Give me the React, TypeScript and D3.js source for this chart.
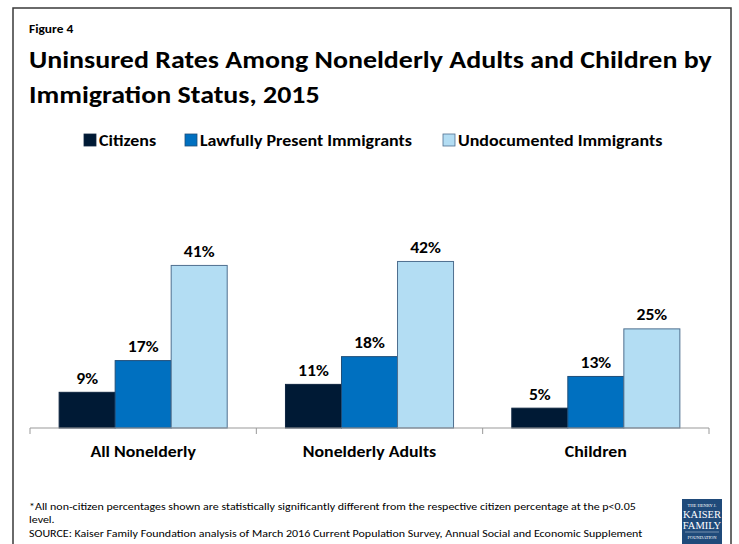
import React from 'react';
import * as d3 from 'd3';

const categories = ['All Nonelderly', 'Nonelderly Adults', 'Children'];
const seriesNames = ['Citizens', 'Lawfully Present Immigrants', 'Undocumented Immigrants'];
const citizens = [9, 11, 5];
const lawful = [17, 18, 13];
const undocumented = [41, 42, 25];
const seriesValues = [citizens, lawful, undocumented];

const colors = ['#001A35', '#0070C0', '#B3DDF3'];
const strokes = ['#0E2540', '#1F4E79', '#4F6F8F'];

const FONT = "Carlito, Calibri, 'Open Sans', sans-serif";

// text stretched horizontally (the source font runs wider than Carlito)
const SText: React.FC<{ x: number; y: number; sx: number; size: number; bold?: boolean; anchor?: string; children: React.ReactNode }> =
  ({ x, y, sx, size, bold, anchor = 'start', children }) => (
    <text transform={`translate(${x},${y}) scale(${sx},1)`} fontSize={size}
      fontWeight={bold ? 'bold' : 'normal'} textAnchor={anchor}>{children}</text>
  );

const App: React.FC = () => {
  const width = 739;
  const height = 544;
  const baseline = 428;

  const x = d3.scaleBand<string>().domain(categories).range([30, 709]).padding(0);
  const xs = d3.scaleBand<string>().domain(seriesNames).range([0, x.bandwidth()]).paddingInner(0).paddingOuter(0.52);
  const y = d3.scaleLinear().domain([0, 45]).range([baseline, baseline - 45 * 3.965]);

  const ticks = [...categories.map(c => x(c) as number), 709];

  const legendX = [84, 185, 443];

  return (
    <svg width={width} height={height} style={{ position: 'absolute', left: 0, top: 0, background: '#fff' }} fontFamily={FONT}>
      <rect x={13} y={8} width={718} height={560} fill="#fff" stroke="#3a3a3a" strokeWidth={1.5} />
      <SText x={29} y={33} sx={1.17} size={11.5} bold>Figure 4</SText>
      <SText x={29} y={68} sx={1.118} size={25} bold>Uninsured Rates Among Nonelderly Adults and Children by</SText>
      <SText x={29} y={103} sx={1.118} size={25} bold>Immigration Status, 2015</SText>

      {seriesNames.map((s, i) => (
        <g key={s}>
          <rect x={legendX[i]} y={134} width={12} height={12} fill={colors[i]} stroke={strokes[i]} strokeWidth={0.8} />
          <SText x={legendX[i] + 15} y={146} sx={1.16} size={15.5} bold>{s}</SText>
        </g>
      ))}

      {categories.map((c, ci) => (
        <g key={c} transform={`translate(${x(c)},0)`}>
          {seriesNames.map((s, si) => {
            const v = seriesValues[si][ci];
            const bx = xs(s) as number;
            return (
              <g key={s}>
                <rect x={bx} y={y(v)} width={xs.bandwidth()} height={baseline - y(v)}
                  fill={colors[si]} stroke={strokes[si]} strokeWidth={1} />
                <SText x={bx + xs.bandwidth() / 2} y={y(v) - 8.5} sx={1.14} anchor="middle" size={15.5} bold>{v}%</SText>
              </g>
            );
          })}
          <SText x={x.bandwidth() / 2} y={457} sx={1.15} anchor="middle" size={15.5} bold>{c}</SText>
        </g>
      ))}

      <line x1={30} x2={709} y1={baseline} y2={baseline} stroke="#999" strokeWidth={1} />
      {ticks.map((t, i) => (
        <line key={i} x1={t} x2={t} y1={baseline} y2={baseline + 6} stroke="#999" strokeWidth={1} />
      ))}

      <SText x={29} y={510} sx={1.14} size={10.5}>*All non-citizen percentages shown are statistically significantly different from the respective citizen percentage at the p&lt;0.05</SText>
      <SText x={29} y={523} sx={1.14} size={10.5}>level.</SText>
      <SText x={29} y={537} sx={1.14} size={10.5}>SOURCE: Kaiser Family Foundation analysis of March 2016 Current Population Survey, Annual Social and Economic  Supplement</SText>

      <g fill="#fff" fontFamily="'Liberation Serif', serif">
        <rect x={682} y={499} width={40} height={50} fill="#1F4A7A" />
        <text x={702} y={507} textAnchor="middle" fontSize={4.5}>THE HENRY J.</text>
        <text x={702} y={518} textAnchor="middle" fontSize={10.5}>KAISER</text>
        <text x={702} y={529} textAnchor="middle" fontSize={10.5}>FAMILY</text>
        <line x1={685} x2={719} y1={532} y2={532} stroke="#fff" strokeWidth={0.4} />
        <text x={702} y={539} textAnchor="middle" fontSize={4.5}>FOUNDATION</text>
      </g>
    </svg>
  );
};

export default App;
